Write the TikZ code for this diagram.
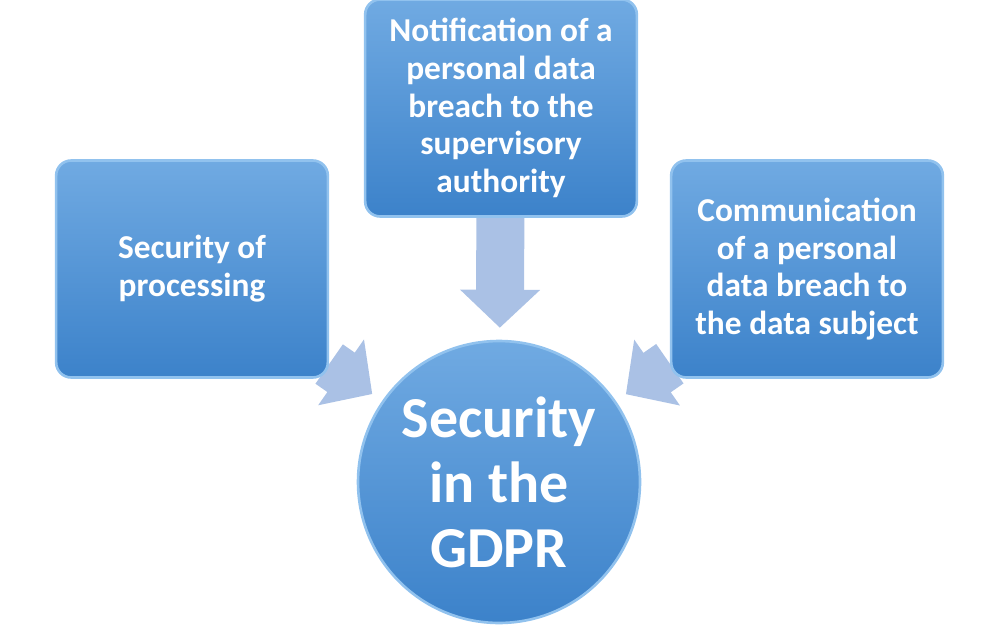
\documentclass[tikz,border=0pt]{standalone}
\usepackage{fontspec}
\setmainfont{Carlito}
\usetikzlibrary{arrows.meta, backgrounds, positioning}

\definecolor{boxtop}{RGB}{112,170,226}
\definecolor{boxbot}{RGB}{60,130,202}
\definecolor{boxedge}{RGB}{145,194,238}
\definecolor{arrowblue}{RGB}{170,193,229}

\begin{document}
\begin{tikzpicture}[x=0.02cm, y=-0.02cm,
    topic/.style={rectangle, rounded corners=0.3cm, minimum width=5.42cm,
      minimum height=4.34cm, text width=5.2cm, align=flush center,
      top color=boxtop, bottom color=boxbot, draw=boxedge, line width=1.5pt,
      text=white, font=\fontsize{19}{21.5}\selectfont\bfseries},
    core/.style={circle, minimum size=5.64cm, inner sep=0pt, align=center,
      top color=boxtop, bottom color=boxbot, draw=boxedge, line width=1.5pt,
      text=white, font=\fontsize{33}{37}\selectfont\bfseries},
    flowarrow/.style={draw=arrowblue, line width=0.96cm, shorten >=0.24cm,
      -{Triangle[width=1.56cm, length=0.76cm]}}]

      \useasboundingbox (0,0) rectangle (1000,628);

      \node[topic] (proc) at (192,269) {Security of\\processing};
      \node[topic] (notif) at (501,108) {Notification of a\\personal data\\breach to the\\supervisory\\authority};
      \node[topic] (comm) at (807,269) {Communication\\of a personal\\data breach to\\the data subject};

      \node[core] (gdpr) at (499,482) {Security\\in the\\GDPR};

      \begin{scope}[on background layer]
        \draw[flowarrow] (proc) -- (gdpr);
        \draw[flowarrow] (notif) -- (gdpr);
        \draw[flowarrow] (comm) -- (gdpr);
      \end{scope}

    \end{tikzpicture}
\end{document}
